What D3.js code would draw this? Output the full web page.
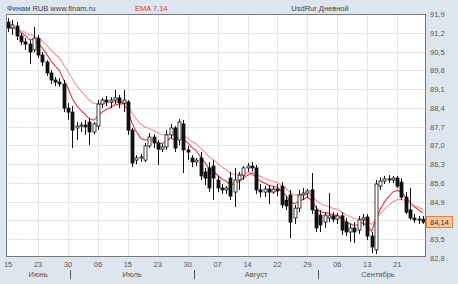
<!DOCTYPE html>
<html>
<head>
<meta charset="utf-8">
<script src="https://cdn.jsdelivr.net/npm/d3@7"></script>
<style>
  body { margin: 0; background: #dde6ef; }
  svg { display: block; }
  text { font-family: "Liberation Sans", Arial, sans-serif; }
</style>
</head>
<body>
<div class="chart"></div>
<script>
// daily bars, oldest first
var open  = [91.60,91.38,91.45,91.08,90.86,90.78,90.56,91.00,90.37,90.11,89.70,89.44,89.36,89.29,88.39,88.24,87.65,87.72,87.76,87.87,
             87.50,87.72,88.54,88.69,88.62,88.69,88.77,88.58,88.62,87.57,86.45,86.53,86.45,86.98,87.31,87.09,86.86,86.94,87.39,87.65,
             87.20,87.80,86.83,86.53,86.38,86.53,86.01,86.16,86.23,85.71,85.41,85.34,85.78,85.26,85.71,85.89,86.16,86.23,86.16,85.34,
             85.26,85.37,85.26,85.37,85.48,84.96,85.15,84.29,84.66,85.15,85.22,85.34,84.59,84.40,84.14,84.29,84.37,84.25,84.37,84.14,
             83.77,83.92,83.84,84.22,84.33,83.62,83.10,85.48,85.67,85.75,85.71,85.78,85.63,85.07,84.59,84.29,84.22,84.25];
var high  = [91.75,91.68,91.60,91.19,91.00,90.93,91.42,91.12,90.48,90.18,89.81,89.55,89.51,89.44,88.58,88.47,87.87,87.87,87.95,88.02,
             87.87,88.69,88.77,88.84,88.80,89.07,88.88,89.07,88.69,87.65,86.64,86.68,87.09,87.46,87.42,87.20,87.05,87.57,87.80,87.72,
             87.98,87.95,86.98,86.64,86.53,86.75,86.16,86.38,86.45,85.86,85.56,85.48,86.01,86.16,86.01,86.23,86.34,86.38,86.27,85.56,
             85.48,85.52,85.48,85.56,85.63,85.11,85.34,84.78,85.34,85.41,85.37,85.97,84.74,84.59,84.51,85.22,84.51,84.48,84.51,84.29,
             84.07,84.14,84.37,84.44,84.44,83.77,85.71,85.82,85.86,85.89,85.86,85.86,85.78,85.26,85.41,84.44,84.37,84.37];
var low   = [91.23,91.12,90.93,90.74,90.56,90.03,90.48,90.26,89.96,89.59,89.29,89.21,89.18,88.24,87.95,86.90,87.20,87.50,87.39,87.01,
             87.42,87.57,88.39,88.47,88.39,88.54,88.39,88.24,87.39,86.19,86.30,86.38,86.38,86.90,86.90,86.27,86.75,86.83,87.27,86.75,
             87.01,85.97,86.45,86.19,86.23,85.71,85.52,85.26,84.96,85.26,85.19,85.19,84.96,84.70,85.34,85.71,86.01,86.04,85.19,85.07,
             85.07,84.81,85.19,85.11,84.66,84.59,83.54,84.07,84.51,84.96,85.04,84.44,83.77,83.77,83.92,84.14,84.14,84.07,83.66,83.62,
             83.40,83.36,83.69,84.00,83.47,82.98,82.95,85.34,85.56,85.60,85.60,85.41,84.96,84.44,84.22,84.11,84.07,84.07];
var close = [91.38,91.49,91.08,90.86,90.78,90.48,91.00,90.37,90.11,89.70,89.44,89.36,89.29,88.39,88.24,87.57,87.72,87.76,87.69,87.50,
             87.80,88.54,88.69,88.62,88.69,88.77,88.58,88.69,87.57,86.34,86.53,86.57,86.98,87.31,87.09,86.86,86.94,87.39,87.65,86.90,
             87.87,86.83,86.75,86.38,86.45,85.86,85.78,85.41,85.78,85.41,85.34,85.41,85.11,85.71,85.89,86.16,86.23,86.16,85.34,85.26,
             85.37,85.26,85.37,85.30,84.78,84.74,84.14,84.66,85.15,85.22,85.30,84.59,83.92,84.03,84.40,84.37,84.25,84.37,83.84,83.77,
             83.92,83.77,84.22,84.29,83.62,83.21,85.56,85.67,85.75,85.71,85.78,85.48,85.07,84.51,84.29,84.22,84.25,84.14];

var dayLabels = ["15","23","30","06","15","23","30","07","14","22","29","06","13","21"];
var dayIdx    = [0, 7, 14, 21, 28, 35, 42, 49, 56, 63, 70, 77, 84, 91];
var months    = ["Июнь", "Июль", "Август", "Сентябрь"];
var monthIdx  = [0, 15, 44, 73, 101];   // first bar of each month, last = end of Sept
var priceTicks = [91.9, 91.2, 90.5, 89.8, 89.1, 88.4, 87.7, 87.0, 86.3, 85.6, 84.9, 84.2, 83.5, 82.8];
var emaPeriods = [7, 14];

var W = 458, H = 284;
var pLeft = 6, pRight = 425, pTop = 14, pBottom = 256;

var svg = d3.select(".chart").append("svg")
    .attr("width", W)
    .attr("height", H);

var n = close.length;
var x = d3.scaleLinear().domain([-0.5, n - 0.5]).range([pLeft, pRight]);
var y = d3.scaleLinear().domain([82.8, 91.9]).range([258, pTop]);
var fmt = function (v) { return d3.format(".1f")(v).replace(".", ","); };

svg.append("rect")
    .attr("x", pLeft).attr("y", pTop)
    .attr("width", pRight - pLeft).attr("height", pBottom - pTop)
    .attr("fill", "#fff");

// grid
svg.append("g").selectAll("line")
    .data(priceTicks.filter(function (v) { return y(v) > pTop + 1 && y(v) < pBottom; }))
    .enter().append("line")
    .attr("x1", pLeft).attr("x2", pRight)
    .attr("y1", function (d) { return Math.round(y(d)) + 0.5; })
    .attr("y2", function (d) { return Math.round(y(d)) + 0.5; })
    .attr("stroke", "#e6e6e6");

svg.append("g").selectAll("line")
    .data(dayIdx.slice(1))
    .enter().append("line")
    .attr("x1", function (d) { return Math.round(x(d)) + 0.5; })
    .attr("x2", function (d) { return Math.round(x(d)) + 0.5; })
    .attr("y1", pTop).attr("y2", pBottom)
    .attr("stroke", "#e6e6e6");

// EMA lines
function ema(vals, p) {
    var k = 2 / (p + 1), out = [], prev = vals[0];
    vals.forEach(function (v, i) {
        prev = i === 0 ? v : v * k + prev * (1 - k);
        out.push(prev);
    });
    return out;
}
var line = d3.line()
    .x(function (d, i) { return x(i); })
    .y(function (d) { return y(d); });

var emaColors = ["#dd4550", "#f19a9a"];
emaPeriods.forEach(function (p, j) {
    svg.append("path")
        .datum(ema(close, p))
        .attr("d", line)
        .attr("fill", "none")
        .attr("stroke", emaColors[j])
        .attr("stroke-width", 1.2);
});

// candles
var bars = svg.append("g").selectAll("g")
    .data(d3.range(n))
    .enter().append("g");

bars.append("line")
    .attr("x1", function (i) { return Math.round(x(i)) + 0.5; })
    .attr("x2", function (i) { return Math.round(x(i)) + 0.5; })
    .attr("y1", function (i) { return y(high[i]); })
    .attr("y2", function (i) { return y(low[i]); })
    .attr("stroke", "#111");

bars.append("rect")
    .attr("x", function (i) { return Math.round(x(i)) - 1; })
    .attr("y", function (i) { return y(Math.max(open[i], close[i])); })
    .attr("width", 3)
    .attr("height", function (i) { return Math.max(1, Math.abs(y(open[i]) - y(close[i]))); })
    .attr("fill", function (i) { return close[i] < open[i] ? "#111" : "#fff"; })
    .attr("stroke", "#111")
    .attr("stroke-width", 0.8);

// frame
svg.append("rect")
    .attr("x", pLeft + 0.5).attr("y", pTop + 0.5)
    .attr("width", pRight - pLeft).attr("height", pBottom - pTop)
    .attr("fill", "none")
    .attr("stroke", "#777");

// price axis
var last = close[n - 1];
svg.append("g").selectAll("text")
    .data(priceTicks.filter(function (v) { return Math.abs(y(v) - y(last)) > 8; }))
    .enter().append("text")
    .attr("x", 430)
    .attr("y", function (d) { return y(d) + 3; })
    .attr("font-size", 7.5)
    .attr("fill", "#555")
    .text(fmt);

svg.append("rect")
    .attr("x", 426.5).attr("y", Math.round(y(last)) - 5.5)
    .attr("width", 26).attr("height", 11)
    .attr("fill", "#f8c89c")
    .attr("stroke", "#d9884a");
svg.append("text")
    .attr("x", 430).attr("y", y(last) + 3)
    .attr("font-size", 7.5)
    .attr("fill", "#333")
    .text(d3.format(".2f")(last).replace(".", ","));

// date axis
svg.append("g").selectAll("text")
    .data(dayIdx)
    .enter().append("text")
    .attr("x", function (d) { return x(d); })
    .attr("y", 267)
    .attr("text-anchor", "middle")
    .attr("font-size", 7.5)
    .attr("fill", "#555")
    .text(function (d, i) { return dayLabels[i]; });

svg.append("g").selectAll("line")
    .data(monthIdx.slice(1, -1))
    .enter().append("line")
    .attr("x1", function (d) { return Math.round(x(d - 0.5)) + 0.5; })
    .attr("x2", function (d) { return Math.round(x(d - 0.5)) + 0.5; })
    .attr("y1", 270).attr("y2", 279)
    .attr("stroke", "#555");

svg.append("g").selectAll("text")
    .data(months)
    .enter().append("text")
    .attr("x", function (d, i) { return (x(monthIdx[i] - 0.5) + x(monthIdx[i + 1] - 0.5)) / 2; })
    .attr("y", 277)
    .attr("text-anchor", "middle")
    .attr("font-size", 7.5)
    .attr("fill", "#555")
    .text(function (d) { return d; });

// header
svg.append("text")
    .attr("x", 7).attr("y", 11)
    .attr("font-size", 7.5).attr("fill", "#444")
    .text("Финам RUB  www.finam.ru");
svg.append("text")
    .attr("x", 135).attr("y", 11)
    .attr("font-size", 7.5).attr("fill", "#e03030")
    .text("EMA 7,14");
svg.append("text")
    .attr("x", 320).attr("y", 11)
    .attr("text-anchor", "middle")
    .attr("font-size", 7.5).attr("fill", "#444")
    .text("UsdRur Дневной");
</script>
</body>
</html>
